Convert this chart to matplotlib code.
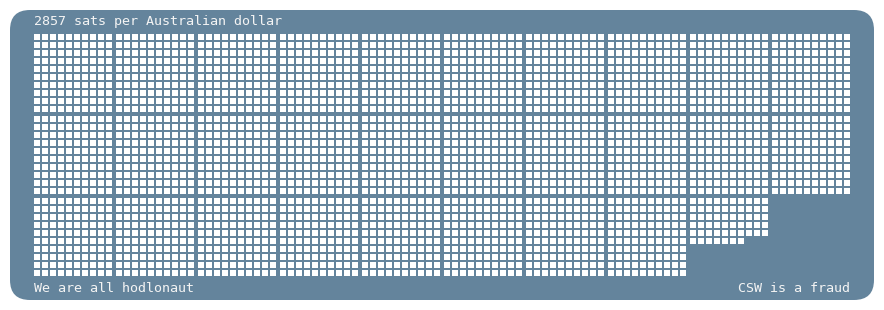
import matplotlib
matplotlib.use('Agg')
import matplotlib.pyplot as plt
from matplotlib.patches import FancyBboxPatch, Rectangle
from matplotlib.collections import PatchCollection

# data
sats = 2857
title = '2857 sats per Australian dollar'
footer_left = 'We are all hodlonaut'
footer_right = 'CSW is a fraud'

bg = '#64849c'
W, H = 884, 310

fig = plt.figure(figsize=(W / 100, H / 100), dpi=100)
ax = fig.add_axes([0, 0, 1, 1])
ax.set_xlim(0, W)
ax.set_ylim(H, 0)
ax.axis('off')

# rounded card
card = FancyBboxPatch((10 + 20, 10 + 20), W - 20 - 40, H - 20 - 40,
                      boxstyle='round,pad=20,rounding_size=20',
                      facecolor=bg, edgecolor='none')
ax.add_patch(card)

# one square per sat, 10x10 per block, 10 blocks per row
cell, size, block_gap = 8, 6, 2
x0, y0 = 34, 34
squares = []
for i in range(sats):
    block, within = divmod(i, 100)
    brow, bcol = divmod(block, 10)
    r, c = divmod(within, 10)
    x = x0 + bcol * (10 * cell + block_gap) + c * cell
    y = y0 + brow * (10 * cell + block_gap) + r * cell
    squares.append(Rectangle((x, y), size, size))
ax.add_collection(PatchCollection(squares, facecolor='white', edgecolor='none',
                                  antialiased=False))

font = dict(family='DejaVu Sans Mono', fontsize=9.6, color='#f4f4f4')
ax.text(34, 21, title, ha='left', va='center', **font)
ax.text(34, 288, footer_left, ha='left', va='center', **font)
ax.text(850, 288, footer_right, ha='right', va='center', **font)

fig.savefig('out.png', dpi=100, facecolor='white')
